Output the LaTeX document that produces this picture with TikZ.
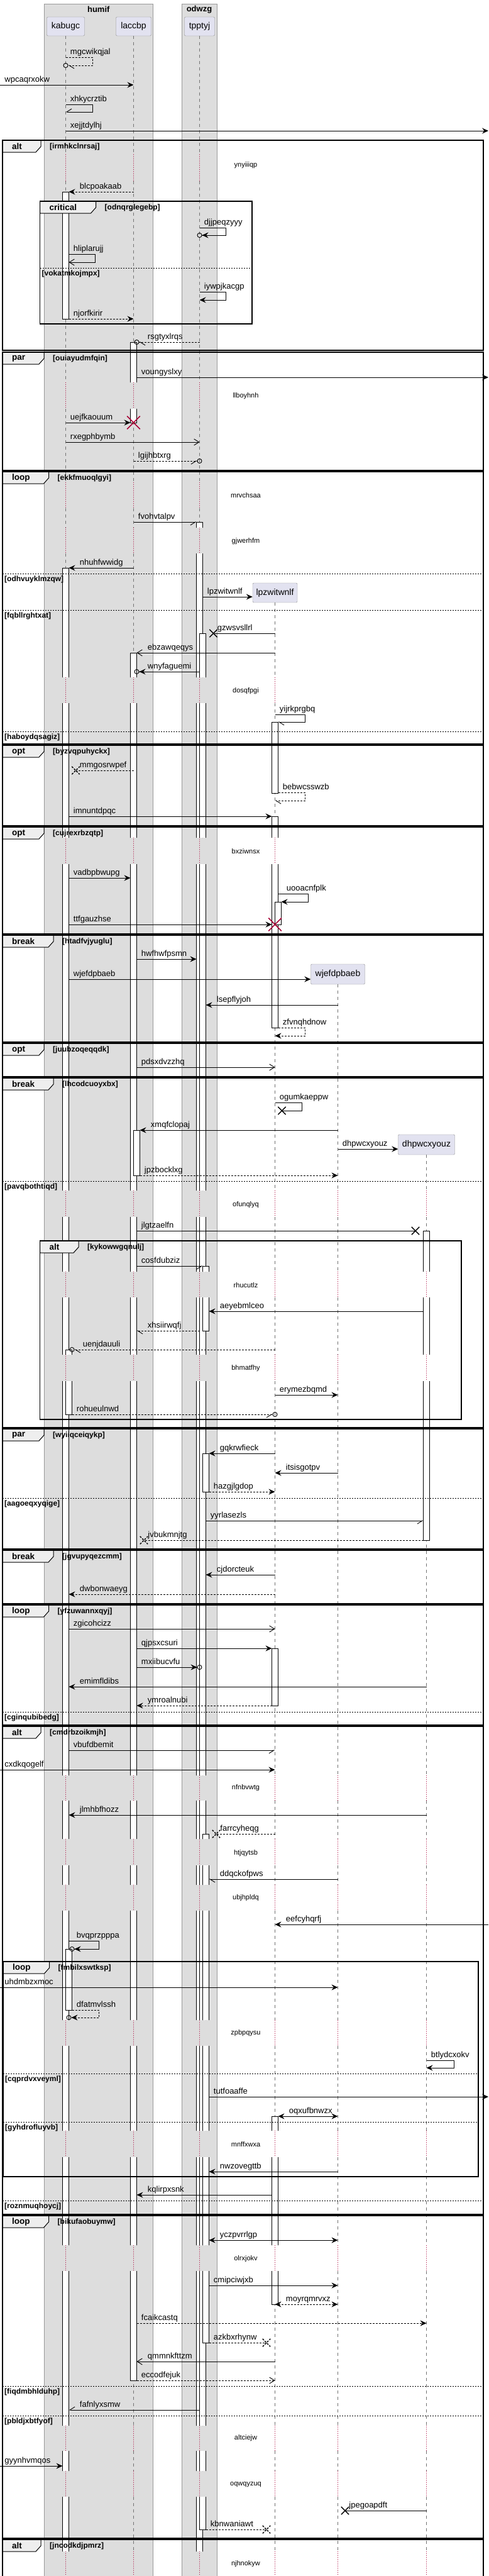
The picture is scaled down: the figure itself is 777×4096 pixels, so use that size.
\documentclass[tikz,border=0pt]{standalone}
\usepackage{fontspec}
\setmainfont{Liberation Sans}
\usetikzlibrary{arrows.meta,shapes.misc}

\definecolor{partfill}{HTML}{E2E2F0}
\definecolor{boxfill}{HTML}{DDDDDD}
\definecolor{tabfill}{HTML}{EEEEEE}
\definecolor{delayred}{HTML}{A80036}

\tikzset{
  partbox/.style={draw=black!45, fill=partfill, rounded corners=2pt, minimum height=30pt, inner sep=0pt, font=\fontsize{14}{16}\selectfont},
  grptitle/.style={font=\bfseries\fontsize{13}{15}\selectfont, inner sep=0pt},
  lifeline/.style={draw=black!55, line width=0.7pt, dash pattern=on 5pt off 5pt},
  delayline/.style={draw=delayred, line width=0.8pt, dash pattern=on 1pt off 2pt},
  delaytxt/.style={font=\fontsize{11}{13}\selectfont, inner sep=0pt},
  actbar/.style={draw=black, fill=white, line width=0.8pt},
  grpframe/.style={draw=black, line width=1.5pt},
  grptab/.style={draw=black, fill=tabfill, line width=1pt},
  grpkind/.style={anchor=west, inner sep=0pt, font=\bfseries\fontsize{13.5}{15}\selectfont},
  grpcond/.style={anchor=west, inner sep=0pt, font=\bfseries\fontsize{12}{14}\selectfont},
  grpsep/.style={draw=black, line width=0.8pt, dash pattern=on 2pt off 2pt},
  msgline/.style={draw=black, line width=0.9pt},
  retline/.style={msgline, dash pattern=on 3pt off 2pt},
  tipfill/.style={-{Stealth[length=10pt,width=9pt,inset=3.5pt]}},
  tipopen/.style={-{Straight Barb[length=8pt,width=10pt]}},
  tiphr/.style={-{Straight Barb[right,length=8pt,width=10pt]}},
  tiphl/.style={-{Straight Barb[left,length=8pt,width=10pt]}},
  tipcf/.style={-{Stealth[length=10pt,width=9pt,inset=3.5pt] Circle[open,length=8pt,width=8pt]}, shorten >=-4pt},
  tipchl/.style={-{Straight Barb[left,length=8pt,width=10pt] Circle[open,length=8pt,width=8pt]}, shorten >=-4pt},
  tipchr/.style={-{Straight Barb[right,length=8pt,width=10pt] Circle[open,length=8pt,width=8pt]}, shorten >=-4pt},
  tipboth/.style={{Stealth[length=10pt,width=9pt,inset=3.5pt]}-{Stealth[length=10pt,width=9pt,inset=3.5pt]}},
  lostmark/.style={cross out, draw=black, line width=1.4pt, minimum size=11pt, inner sep=0pt},
  killmark/.style={cross out, draw=delayred, line width=1.6pt, minimum size=19pt, inner sep=0pt},
  lblr/.style={pos=0, anchor=base west, xshift=7pt, yshift=4.5pt, inner sep=0pt, font=\fontsize{13}{15}\selectfont},
  lbll/.style={pos=1, anchor=base west, xshift=17pt, yshift=4.5pt, inner sep=0pt, font=\fontsize{13}{15}\selectfont},
  lblx/.style={pos=1, anchor=base west, xshift=6pt, yshift=4.5pt, inner sep=0pt, font=\fontsize{13}{15}\selectfont},
  lbls/.style={anchor=base west, xshift=7pt, yshift=4.5pt, inner sep=0pt, font=\fontsize{13}{15}\selectfont},
}

% lifeline pieces between the delays, and the delays themselves
\def\seglist{0/245, 288/608, 650/767, 808/839, 880/1077, 1118/1332, 1374/1893, 1935/2022, 2063/2154, 2196/2823, 2863/2924, 2966/2997, 3038/3212, 3253/3388, 3430/3570, 3611/3857, 3897/3929, 3970/4057, 4098/4130}
\def\delaylist{245/288/263/ynyiiiqp, 608/650/630/llboyhnh, 767/808/788/mrvchsaa, 839/880/861/gjwerhfm, 1077/1118/1099/dosqfpgi, 1332/1374/1354/bxziwnsx, 1893/1935/1916/ofunqlyq, 2022/2063/2044/rhucutlz, 2154/2196/2176/bhmatfhy, 2823/2863/2843/nfnbvwtg, 2924/2966/2947/htjqytsb, 2997/3038/3018/ubjhpldq, 3212/3253/3233/zpbpqysu, 3388/3430/3410/mnffxwxa, 3570/3611/3592/olrxjokv, 3857/3897/3877/altciejw, 3929/3970/3951/oqwqyzuq, 4057/4098/4077/njhnokyw}

\begin{document}
\begin{tikzpicture}[x=1pt,y=-1pt]
\useasboundingbox (0,0) rectangle (777,4096);
\clip (0,0) rectangle (777,4096);

% participant groups
\draw[fill=boxfill, draw=black!40] (70,6) rectangle (243.5,4110);
\draw[fill=boxfill, draw=black!40] (289,6) rectangle (345,4110);
\node[grptitle] (humif) at (156.75,15) {humif};
\node[grptitle] (odwzg) at (317,15) {odwzg};

% participants
\node[partbox, minimum width=60pt] (kabugc) at (104.5,42) {kabugc};
\node[partbox, minimum width=56pt] (laccbp) at (212.5,42) {laccbp};
\node[partbox, minimum width=48pt] (tpptyj) at (317.5,42) {tpptyj};
\node[partbox, minimum width=71pt, minimum height=31pt] (lpzwitwnlf) at (437.5,942.5) {lpzwitwnlf};
\node[partbox, minimum width=86pt, minimum height=32pt] (wjefdpbaeb) at (537.5,1549) {wjefdpbaeb};
\node[partbox, minimum width=90pt, minimum height=32pt] (dhpwcxyouz) at (678.5,1820) {dhpwcxyouz};

\coordinate (kab) at (kabugc.south);
\coordinate (kabL) at ([xshift=-5pt]kabugc.south);
\coordinate (kabR) at ([xshift=5pt]kabugc.south);
\coordinate (kabRR) at ([xshift=10pt]kabugc.south);
\coordinate (lac) at (laccbp.south);
\coordinate (lacL) at ([xshift=-5pt]laccbp.south);
\coordinate (lacR) at ([xshift=5pt]laccbp.south);
\coordinate (lacRR) at ([xshift=10pt]laccbp.south);
\coordinate (tpp) at (tpptyj.south);
\coordinate (tppL) at ([xshift=-5pt]tpptyj.south);
\coordinate (tppR) at ([xshift=5pt]tpptyj.south);
\coordinate (tppRR) at ([xshift=10pt]tpptyj.south);
\coordinate (tppR3) at ([xshift=15pt]tpptyj.south);
\coordinate (lpz) at (lpzwitwnlf.south);
\coordinate (lpzL) at ([xshift=-5pt]lpzwitwnlf.south);
\coordinate (lpzR) at ([xshift=5pt]lpzwitwnlf.south);
\coordinate (lpzRR) at ([xshift=10pt]lpzwitwnlf.south);
\coordinate (wje) at (wjefdpbaeb.south);
\coordinate (dhp) at (dhpwcxyouz.south);
\coordinate (dhpL) at ([xshift=-5pt]dhpwcxyouz.south);
\coordinate (outL) at (0,0);
\coordinate (outR) at (777,0);

% lifelines
\foreach \lx/\ly in {kab/57, lac/57, tpp/57, lpz/958, wje/1565, dhp/1836} {
  \foreach \a/\b in \seglist {
    \pgfmathsetmacro\aa{max(\a,\ly)}
    \ifdim\aa pt<\b pt \draw[lifeline] (\lx |- 0,\aa) -- (\lx |- 0,\b); \fi
  }
  \foreach \a/\b/\m/\t in \delaylist {
    \ifdim\a pt>\ly pt \draw[delayline] (\lx |- 0,\a) -- (\lx |- 0,\b); \fi
  }
}
\foreach \a/\b/\m/\t in \delaylist
  \node[delaytxt] (delay\m) at (391,\m) {\t};

% activation bars, cut open by the delays
\begin{scope}
\clip \foreach \a/\b in \seglist {(0,\a) rectangle (777,\b)};
\foreach \l/\r/\a/\b in {99.5/109.5/305/507, 99.5/109.5/903/4130, 104.5/114.5/2146/2249, 104.5/114.5/3099/3196,
    207.5/217.5/544/672, 207.5/217.5/1038/3785, 212.5/222.5/1797/1869,
    312.5/322.5/830/4130, 317.5/327.5/1007/4022, 322.5/332.5/2013/2116, 322.5/332.5/2311/2372, 322.5/332.5/2916/3725,
    432.5/442.5/1148/1261, 432.5/442.5/1298/1634, 437.5/447.5/1434/1470, 432.5/442.5/2621/2712, 432.5/442.5/3365/3664,
    673.5/683.5/1957/2449}
  \draw[actbar] (\l,\a) rectangle (\r,\b);
\end{scope}

% group frames
\foreach \t/\b/\l/\r/\k/\w/\c in {223/557/4/769/alt/61/irmhkclnrsaj, 320/515/63.5/401/critical/89/odnqrglegebp,
    560/748/4/769/par/66/ouiayudmfqin, 750/1183/4/769/loop/73.5/ekkfmuoqlgyi,
    1185/1313/4/769/opt/66/byzvqpuhyckx, 1315/1485/4/769/opt/66/cujrexrbzqtp,
    1487/1657/4/769/break/81/htadfvjyuglu, 1659/1712/4/769/opt/66/juubzoqeqqdk,
    1714/2270/4/769/break/81/lhcodcuoyxbx, 1973/2257/63.5/734/alt/61.5/kykowwgqnulj,
    2272/2463/4/769/par/66/wyiiqceiqykp, 2465/2550/4/769/break/81/jgvupyqezcmm,
    2552/2743/4/769/loop/73.5/yfzuwannxqyj, 2745/3521/4/769/alt/61/cmdrbzoikmjh,
    3119/3461/5/761/loop/73.5/fmbilxswtksp, 3523/4036/4/769/loop/73.5/bikufaobuymw,
    4038/4130/4/769/alt/61/jncodkdjpmrz} {
  \draw[grptab] (\l,\t) -- (\l+\w,\t) -- (\l+\w,\t+10) -- (\l+\w-8,\t+19) -- (\l,\t+19) -- cycle;
  \draw[grpframe] (\l,\t) rectangle (\r,\b);
  \node[grpkind] (kind\t) at (\l+15,\t+10) {\k};
  \node[grpcond] (cond\t) at (\l+\w+14,\t+10) {[\c]};
}
\foreach \y/\l/\r/\c in {426/63.5/401/vokatmkojmpx, 912/4/769/odhvuyklmzqw, 970/4/769/fqbllrghtxat,
    1163/4/769/haboydqsagiz, 1878/4/769/pavqbothtiqd, 2382/4/769/aagoeqxyqige, 2722/4/769/cginqubibedg,
    3297/5/761/cqprdvxveyml, 3374/5/761/gyhdrofluyvb, 3499/4/769/roznmuqhoycj,
    3794/4/769/fiqdmbhlduhp, 3841/4/769/pbldjxbtfyof} {
  \draw[grpsep] (\l,\y) -- (\r,\y);
  \node[grpcond] (else\y) at (\l+3,\y+9) {[\c]};
}

% messages
\draw[retline,tipchl] (kab |- 0,91) node[lbls]{mgcwikqjal} -- ++(42.5,0) |- (kab |- 0,104);
\draw[msgline,tipfill] (outL |- 0,135) -- (lac |- 0,135) node[lblr]{wpcaqrxokw};
\draw[msgline,tiphr] (kab |- 0,166) node[lbls]{xhkycrztib} -- ++(42.5,0) |- (kab |- 0,178);
\draw[msgline,tipfill] (kab |- 0,208) -- (outR |- 0,208) node[lblr]{xejjtdylhj};
\draw[retline,tipfill] (lac |- 0,305) -- (kabR |- 0,305) node[lbll]{blcpoakaab};
\draw[msgline,tipcf] (tpp |- 0,362) node[lbls]{djjpeqzyyy} -- ++(41.5,0) |- (tpp |- 0,374);
\draw[msgline,tipopen] (kabR |- 0,404) node[lbls]{hliplarujj} -- ++(42,0) |- (kabR |- 0,417);
\draw[msgline,tipfill] (tpp |- 0,464) node[lbls]{iywpjkacgp} -- ++(41.5,0) |- (tpp |- 0,477);
\draw[retline,tipfill] (kabR |- 0,507) -- (lac |- 0,507) node[lblr]{njorfkirir};
\draw[retline,tipchl] (tpp |- 0,544) -- (lacR |- 0,544) node[lbll]{rsgtyxlrqs};
\draw[msgline,tipfill] (lacR |- 0,600) -- (outR |- 0,600) node[lblr]{voungyslxy};
\draw[msgline,tipfill] (kab |- 0,672) -- (lacL |- 0,672) node[lblr]{uejfkaouum};
\node[killmark] (kill1) at (lac |- 0,672) {};
\draw[msgline,tipopen] (kab |- 0,703) -- (tpp |- 0,703) node[lblr]{rxegphbymb};
\draw[retline,tipchr] (lac |- 0,733) -- (tpp |- 0,733) node[lblr]{lgijhbtxrg};
\draw[msgline,tiphr] (lac |- 0,830) -- (tppL |- 0,830) node[lblr]{fvohvtalpv};
\draw[msgline,tipfill] (lac |- 0,903) -- (kabR |- 0,903) node[lbll]{nhuhfwwidg};
\draw[msgline,tipfill] (tppR |- 0,949) -- (lpzwitwnlf.west |- 0,949) node[lblr]{lpzwitwnlf};
\draw[msgline] (lpz |- 0,1007) -- ([xshift=12pt]tppRR |- 0,1007) node[lostmark](lost1){} node[lblx]{gzwsvsllrl};
\draw[msgline,tipopen] (lpz |- 0,1038) -- (lacR |- 0,1038) node[lbll]{ebzawqeqys};
\draw[msgline,tipcf] (tpp |- 0,1068) -- (lacR |- 0,1068) node[lbll]{wnyfaguemi};
\draw[msgline,tiphl] (lpz |- 0,1136) node[lbls]{yijrkprgbq} -- ++(47.5,0) |- (lpzR |- 0,1148);
\draw[retline] (lac |- 0,1225) -- ([xshift=11pt]kabR |- 0,1225) node[lostmark](lost2){} node[lblx]{mmgosrwpef};
\draw[retline,tiphl] (lpzR |- 0,1260) node[lbls]{bebwcsswzb} -- ++(42.5,0) |- (lpz |- 0,1273);
\draw[msgline,tipfill] (kabR |- 0,1298) -- (lpzL |- 0,1298) node[lblr]{imnuntdpqc};
\draw[msgline,tipfill] (kabR |- 0,1396) -- (lacL |- 0,1396) node[lblr]{vadbpbwupg};
\draw[msgline,tipfill] (lpzR |- 0,1421) node[lbls,xshift=6pt]{uooacnfplk} -- ++(47.5,0) |- (lpzRR |- 0,1434);
\draw[msgline,tipfill] (kabR |- 0,1470) -- (lpzL |- 0,1470) node[lblr]{ttfgauzhse};
\node[killmark] (kill2) at (lpz |- 0,1470) {};
\draw[msgline,tipfill] (lacR |- 0,1525) -- (tppL |- 0,1525) node[lblr]{hwfhwfpsmn};
\draw[msgline,tipfill] (kabR |- 0,1557) -- (wjefdpbaeb.west |- 0,1557) node[lblr]{wjefdpbaeb};
\draw[msgline,tipfill] (wje |- 0,1598) -- (tppRR |- 0,1598) node[lbll]{lsepflyjoh};
\draw[retline,tipfill] (lpzR |- 0,1634) node[lbls]{zfvnqhdnow} -- ++(42.5,0) |- (lpz |- 0,1647);
\draw[msgline,tipopen] (lacR |- 0,1697) -- (lpz |- 0,1697) node[lblr]{pdsxdvzzhq};
\draw[msgline] (lpz |- 0,1753) node[lbls]{ogumkaeppw} -- ++(42.5,0) |- ([xshift=11pt]lpz |- 0,1766) node[lostmark](lost3){};
\draw[msgline,tipfill] (wje |- 0,1797) -- (lacRR |- 0,1797) node[lbll]{xmqfclopaj};
\draw[msgline,tipfill] (wje |- 0,1827) -- (dhpwcxyouz.west |- 0,1827) node[lblr]{dhpwcxyouz};
\draw[retline,tipfill] (lacRR |- 0,1869) -- (wje |- 0,1869) node[lblr]{jpzbocklxg};
\draw[msgline] (lacR |- 0,1957) -- ([xshift=-12.5pt]dhpL |- 0,1957) node[lostmark](lost4){} node[lblr]{jlgtzaelfn};
\draw[msgline,tiphr] (lacR |- 0,2013) -- (tppR |- 0,2013) node[lblr]{cosfdubziz};
\draw[msgline,tipfill] (dhpL |- 0,2085) -- (tppR3 |- 0,2085) node[lbll]{aeyebmlceo};
\draw[retline,tiphl] (tpp |- 0,2116) -- (lacR |- 0,2116) node[lbll]{xhsiirwqfj};
\draw[retline,tipchl] (lpz |- 0,2146) -- (kabRR |- 0,2146) node[lbll]{uenjdauuli};
\draw[msgline,tipfill] (lpz |- 0,2218) -- (wje |- 0,2218) node[lblr]{erymezbqmd};
\draw[retline,tipchr] (kabRR |- 0,2249) -- (lpz |- 0,2249) node[lblr]{rohueulnwd};
\draw[msgline,tipfill] (lpz |- 0,2311) -- (tppR3 |- 0,2311) node[lbll]{gqkrwfieck};
\draw[msgline,tipfill] (wje |- 0,2342) -- (lpz |- 0,2342) node[lbll]{itsisgotpv};
\draw[retline,tipfill] (tppR3 |- 0,2372) -- (lpz |- 0,2372) node[lblr]{hazgjlgdop};
\draw[msgline,tiphr] (tppRR |- 0,2418) -- (dhpL |- 0,2418) node[lblr]{yyrlasezls};
\draw[retline] (dhpL |- 0,2449) -- ([xshift=11.5pt]lacR |- 0,2449) node[lostmark](lost5){} node[lblx]{jvbukmnjtg};
\draw[msgline,tipfill] (lpz |- 0,2504) -- (tppRR |- 0,2504) node[lbll]{cjdorcteuk};
\draw[retline,tipfill] (lpz |- 0,2535) -- (kabR |- 0,2535) node[lbll]{dwbonwaeyg};
\draw[msgline,tipopen] (kabR |- 0,2590) -- (lpz |- 0,2590) node[lblr]{zgicohcizz};
\draw[msgline,tipfill] (lacR |- 0,2621) -- (lpzL |- 0,2621) node[lblr]{qjpsxcsuri};
\draw[msgline,tipcf] (lacR |- 0,2651) -- (tpp |- 0,2651) node[lblr]{mxiibucvfu};
\draw[msgline,tipfill] (dhp |- 0,2682) -- (kabR |- 0,2682) node[lbll]{emimfldibs};
\draw[retline,tipfill] (lpzL |- 0,2712) -- (lacR |- 0,2712) node[lbll]{ymroalnubi};
\draw[msgline,tiphr] (kabR |- 0,2783) -- (lpz |- 0,2783) node[lblr]{vbufdbemit};
\draw[msgline,tipfill] (outL |- 0,2814) -- (lpz |- 0,2814) node[lblr]{cxdkqogelf};
\draw[msgline,tipfill] (dhp |- 0,2886) -- (kabR |- 0,2886) node[lbll]{jlmhbfhozz};
\draw[retline] (lpz |- 0,2916) -- ([xshift=11.5pt]tppR3 |- 0,2916) node[lostmark](lost6){} node[lblx]{farrcyheqg};
\draw[msgline,tiphl] (wje |- 0,2988) -- (tppR3 |- 0,2988) node[lbll]{ddqckofpws};
\draw[msgline,tipfill] (outR |- 0,3060) -- (lpz |- 0,3060) node[lbll]{eefcyhqrfj};
\draw[msgline,tipcf] (kabR |- 0,3086) node[lbls,xshift=5pt]{bvqprzpppa} -- ++(47.5,0) |- (kabRR |- 0,3099);
\draw[msgline,tipfill] (outL |- 0,3160) -- (wje |- 0,3160) node[lblr]{uhdmbzxmoc};
\draw[retline,tipcf] (kabRR |- 0,3196) node[lbls]{dfatmvlssh} -- ++(42.5,0) |- (kabR |- 0,3208);
\draw[msgline,tipfill] (dhp |- 0,3276) node[lbls]{btlydcxokv} -- ++(43.5,0) |- (dhp |- 0,3288);
\draw[msgline,tipfill] (tppR3 |- 0,3334) -- (outR |- 0,3334) node[lblr]{tutfoaaffe};
\draw[msgline,tipboth] (wje |- 0,3365) -- (lpzR |- 0,3365) node[lbll]{oqxufbnwzx};
\draw[msgline,tipfill] (wje |- 0,3453) -- (tppR3 |- 0,3453) node[lbll]{nwzovegttb};
\draw[msgline,tipfill] (lpzL |- 0,3490) -- (lacR |- 0,3490) node[lbll]{kqlirpxsnk};
\draw[msgline,tipboth] (wje |- 0,3562) -- (tppR3 |- 0,3562) node[lbll]{yczpvrrlgp};
\draw[msgline,tipfill] (tppR3 |- 0,3634) -- (wje |- 0,3634) node[lblr]{cmipciwjxb};
\draw[retline,tipboth] (wje |- 0,3664) -- (lpz |- 0,3664) node[lbll]{moyrqmrvxz};
\draw[retline,tipfill] (lacR |- 0,3694) -- (dhp |- 0,3694) node[lblr]{fcaikcastq};
\draw[retline] (tppR3 |- 0,3725) -- ([xshift=-13.5pt]lpz |- 0,3725) node[lostmark](lost7){} node[lblr]{azkbxrhynw};
\draw[msgline,tipopen] (lpz |- 0,3755) -- (lacR |- 0,3755) node[lbll]{qmmnkfttzm};
\draw[retline,tipopen] (lacR |- 0,3785) -- (lpz |- 0,3785) node[lblr]{eccodfejuk};
\draw[msgline,tiphr] (tpp |- 0,3832) -- (kabR |- 0,3832) node[lbll]{fafnlyxsmw};
\draw[msgline,tipfill] (outL |- 0,3921) -- (kabL |- 0,3921) node[lblr]{gyynhvmqos};
\draw[msgline] (dhp |- 0,3992) -- ([xshift=11.5pt]wje |- 0,3992) node[lostmark](lost8){} node[lblx]{jpegoapdft};
\draw[retline] (tppRR |- 0,4022) -- ([xshift=-13.5pt]lpz |- 0,4022) node[lostmark](lost9){} node[lblr]{kbnwaniawt};
\end{tikzpicture}
\end{document}
